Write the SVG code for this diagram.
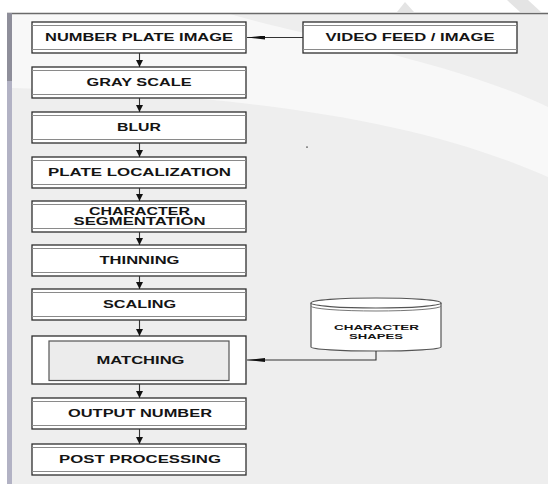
<svg xmlns="http://www.w3.org/2000/svg" width="548" height="484" viewBox="0 0 548 484">
<style>
.bx{fill:#fff;stroke:#2e2e2e;stroke-width:1.3}
.dl{stroke:#8a8a8a;stroke-width:1}
.t{font-family:"Liberation Sans",Arial,sans-serif;font-weight:bold;font-size:10px;fill:#141414;text-anchor:middle}
.ts{font-family:"Liberation Sans",Arial,sans-serif;font-weight:bold;font-size:8px;fill:#141414;text-anchor:middle}
.cn{fill:none;stroke:#333;stroke-width:1.1}
</style>
<defs>
<marker id="ad" viewBox="0 0 8 8" refX="8" refY="4" markerWidth="7" markerHeight="7" markerUnits="userSpaceOnUse" orient="auto"><path d="M0,0 L8,4 L0,8 z" fill="#111"/></marker>
<marker id="al" viewBox="0 0 18 4" refX="18" refY="2" markerWidth="18" markerHeight="4" markerUnits="userSpaceOnUse" orient="auto"><path d="M0,0 L18,2 L0,4 z" fill="#111"/></marker>
</defs>
<rect x="0" y="0" width="548" height="484" fill="#fff"/>
<rect x="7" y="13" width="541" height="471" fill="#eeeeee"/>
<path d="M12,14 L230,14 C300,35 450,60 548,107 L548,177 C420,120 250,95 12,88 Z" fill="#f8f8f8"/>
<polygon points="405,2 397,12 414,12" fill="#e4e4e4"/>
<polygon points="507,0 528,0 541,12 520,12" fill="#e4e4e4"/>
<line x1="7" y1="13.5" x2="548" y2="13.5" stroke="#6a6a6a" stroke-width="1.6"/>
<rect x="7" y="13" width="5" height="68" fill="#8e8e9a"/>
<rect x="7" y="81" width="5" height="403" fill="#b2b2c4"/>
<rect x="306" y="146.5" width="2" height="1.2" fill="#666"/>

<g id="n1"><rect class="bx" x="32" y="22" width="214" height="31"/><line class="dl" x1="32" y1="25.5" x2="246" y2="25.5"/><line class="dl" x1="32" y1="49.5" x2="246" y2="49.5"/><text class="t" x="139" y="41" textLength="188" lengthAdjust="spacingAndGlyphs">NUMBER PLATE IMAGE</text></g>
<g id="n0"><rect class="bx" x="303" y="22" width="214" height="31"/><line class="dl" x1="303" y1="25.5" x2="517" y2="25.5"/><line class="dl" x1="303" y1="49.5" x2="517" y2="49.5"/><text class="t" x="410" y="41" textLength="169" lengthAdjust="spacingAndGlyphs">VIDEO FEED / IMAGE</text></g>
<g id="n2"><rect class="bx" x="32" y="67" width="214" height="31"/><line class="dl" x1="32" y1="70.5" x2="246" y2="70.5"/><line class="dl" x1="32" y1="94.5" x2="246" y2="94.5"/><text class="t" x="139" y="86" textLength="105" lengthAdjust="spacingAndGlyphs">GRAY SCALE</text></g>
<g id="n3"><rect class="bx" x="32" y="112" width="214" height="31"/><line class="dl" x1="32" y1="115.5" x2="246" y2="115.5"/><line class="dl" x1="32" y1="139.5" x2="246" y2="139.5"/><text class="t" x="139" y="131" textLength="44" lengthAdjust="spacingAndGlyphs">BLUR</text></g>
<g id="n4"><rect class="bx" x="32" y="157" width="214" height="31"/><line class="dl" x1="32" y1="160.5" x2="246" y2="160.5"/><line class="dl" x1="32" y1="184.5" x2="246" y2="184.5"/><text class="t" x="139.5" y="176" textLength="183" lengthAdjust="spacingAndGlyphs">PLATE LOCALIZATION</text></g>
<g id="n5"><rect class="bx" x="32" y="201" width="214" height="31"/><line class="dl" x1="32" y1="204.5" x2="246" y2="204.5"/><line class="dl" x1="32" y1="228.5" x2="246" y2="228.5"/><text class="t" x="139.5" y="215" textLength="101" lengthAdjust="spacingAndGlyphs">CHARACTER</text><text class="t" x="139.5" y="225" textLength="132" lengthAdjust="spacingAndGlyphs">SEGMENTATION</text></g>
<g id="n6"><rect class="bx" x="32" y="245" width="214" height="31"/><line class="dl" x1="32" y1="248.5" x2="246" y2="248.5"/><line class="dl" x1="32" y1="272.5" x2="246" y2="272.5"/><text class="t" x="139.5" y="264" textLength="80" lengthAdjust="spacingAndGlyphs">THINNING</text></g>
<g id="n7"><rect class="bx" x="32" y="289" width="214" height="31"/><line class="dl" x1="32" y1="292.5" x2="246" y2="292.5"/><line class="dl" x1="32" y1="316.5" x2="246" y2="316.5"/><text class="t" x="139.5" y="308" textLength="73" lengthAdjust="spacingAndGlyphs">SCALING</text></g>
<g id="n8"><rect class="bx" x="32" y="336" width="214" height="48"/><rect x="49" y="341" width="180" height="39.5" fill="#ececec" stroke="#555" stroke-width="1.2"/><text class="t" x="140.5" y="364" textLength="88" lengthAdjust="spacingAndGlyphs">MATCHING</text></g>
<g id="n9"><rect class="bx" x="32" y="398" width="214" height="31"/><line class="dl" x1="32" y1="401.5" x2="246" y2="401.5"/><line class="dl" x1="32" y1="425.5" x2="246" y2="425.5"/><text class="t" x="140" y="417" textLength="144" lengthAdjust="spacingAndGlyphs">OUTPUT NUMBER</text></g>
<g id="n10"><rect class="bx" x="32" y="444" width="214" height="31"/><line class="dl" x1="32" y1="447.5" x2="246" y2="447.5"/><line class="dl" x1="32" y1="471.5" x2="246" y2="471.5"/><text class="t" x="140" y="463" textLength="162" lengthAdjust="spacingAndGlyphs">POST PROCESSING</text></g>
<g id="db">
<path d="M311,303 L311,347 A65,4 0 0 0 441,347 L441,303" fill="#fff" stroke="#555" stroke-width="1.2"/>
<ellipse cx="376" cy="303" rx="65" ry="5" fill="#fff" stroke="#555" stroke-width="1.2"/>
<path d="M311,306 A65,5 0 0 0 441,306" fill="none" stroke="#777" stroke-width="1"/>
<text class="ts" x="376.5" y="330" textLength="85" lengthAdjust="spacingAndGlyphs">CHARACTER</text>
<text class="ts" x="376" y="339" textLength="54" lengthAdjust="spacingAndGlyphs">SHAPES</text>
</g>

<g id="connectors">
<line class="cn" x1="303" y1="37.5" x2="247" y2="37.5" marker-end="url(#al)"/>
<path class="cn" d="M376,351 L376,360 L247,360" marker-end="url(#al)"/>
<line class="cn" x1="139.5" y1="53" x2="139.5" y2="67" marker-end="url(#ad)"/>
<line class="cn" x1="139.5" y1="98" x2="139.5" y2="112" marker-end="url(#ad)"/>
<line class="cn" x1="139.5" y1="143" x2="139.5" y2="157" marker-end="url(#ad)"/>
<line class="cn" x1="139.5" y1="188" x2="139.5" y2="201" marker-end="url(#ad)"/>
<line class="cn" x1="139.5" y1="232" x2="139.5" y2="245" marker-end="url(#ad)"/>
<line class="cn" x1="139.5" y1="276" x2="139.5" y2="289" marker-end="url(#ad)"/>
<line class="cn" x1="139.5" y1="320" x2="139.5" y2="336" marker-end="url(#ad)"/>
<line class="cn" x1="139.5" y1="384" x2="139.5" y2="398" marker-end="url(#ad)"/>
<line class="cn" x1="139.5" y1="429" x2="139.5" y2="444" marker-end="url(#ad)"/>
</g>
</svg>
